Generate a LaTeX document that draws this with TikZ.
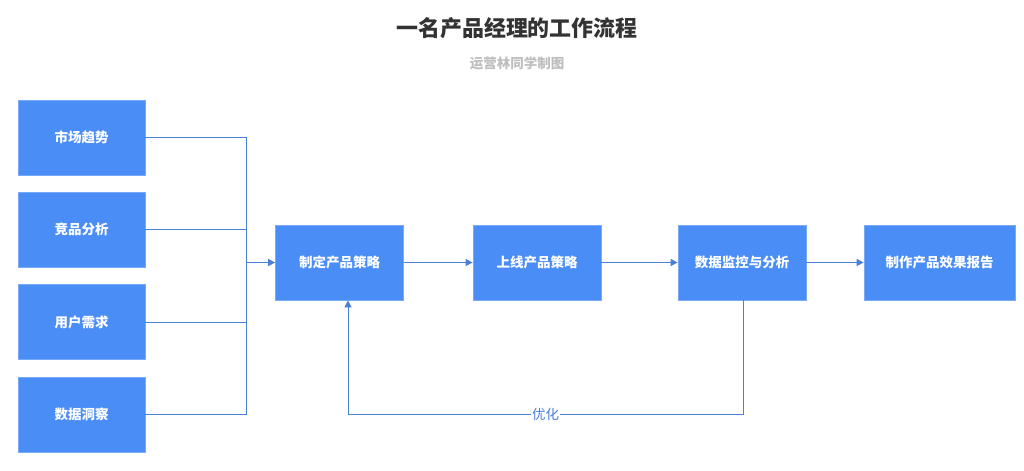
\documentclass[tikz,border=0pt]{standalone}
\usepackage{fontspec}
\newfontfamily\cjk{Noto Sans CJK SC}
\usepackage{xcolor}
\usetikzlibrary{arrows.meta}
\definecolor{boxblue}{RGB}{74,141,246}
\definecolor{boxedge}{RGB}{120,170,245}
\definecolor{lineblue}{RGB}{74,128,216}
\definecolor{titlegray}{RGB}{51,51,51}
\definecolor{subgray}{RGB}{190,190,190}

\begin{document}
\begin{tikzpicture}[x=0.025cm,y=-0.025cm]
  \tikzset{every node/.style={font=\cjk},
    box/.style={fill=boxblue,draw=boxedge,line width=0.5pt,text=white,font=\cjk\bfseries\fontsize{9.6}{11}\selectfont,minimum height=75*0.025cm,minimum width=128*0.025cm,inner sep=0pt},
    link/.style={draw=lineblue,line width=0.7pt},
    tip/.style={-{Triangle[length=5pt,width=5pt]}}};
  \useasboundingbox (0,0) rectangle (1024,471);
  \node[text=titlegray,font=\cjk\bfseries\fontsize{15.6}{18}\selectfont] (title) at (517,28){一名产品经理的工作流程};
  \node[text=subgray,font=\cjk\bfseries\fontsize{9.6}{11}\selectfont] (sub) at (517,63){运营林同学制图};
  \node[box,minimum width=127*0.025cm] (sc) at (81.5,137.5){市场趋势};
  \node[box,minimum width=127*0.025cm] (jp) at (81.5,229.5){竞品分析};
  \node[box,minimum width=127*0.025cm] (yh) at (81.5,322){用户需求};
  \node[box,minimum width=127*0.025cm] (dc) at (81.5,414.5){数据洞察};
  \node[box] (zd) at (339.5,262.5){制定产品策略};
  \node[box] (sx) at (537,262.5){上线产品策略};
  \node[box] (jk) at (742,262.5){数据监控与分析};
  \node[box,minimum width=151*0.025cm] (bg) at (939.5,262.5){制作产品效果报告};
  \coordinate (bus) at (246,262.5);
  \coordinate (fbR) at (743,414.5);
  \coordinate (fbL) at (348,414.5);
  \draw[link] (sc.east) -| (bus);
  \draw[link] (jp.east) -| (bus);
  \draw[link] (yh.east) -| (bus);
  \draw[link] (dc.east) -| (bus);
  \draw[link,tip] (bus) -- (zd);
  \draw[link,tip] (zd) -- (sx);
  \draw[link,tip] (sx) -- (jk);
  \draw[link,tip] (jk) -- (bg);
  \draw[link,tip] (jk.south -| fbR) -- (fbR) -- node[fill=white,inner sep=1pt,text=lineblue,font=\cjk\fontsize{9.6}{11}\selectfont]{优化} (fbL) -- (fbL |- zd.south);
\end{tikzpicture}
\end{document}
